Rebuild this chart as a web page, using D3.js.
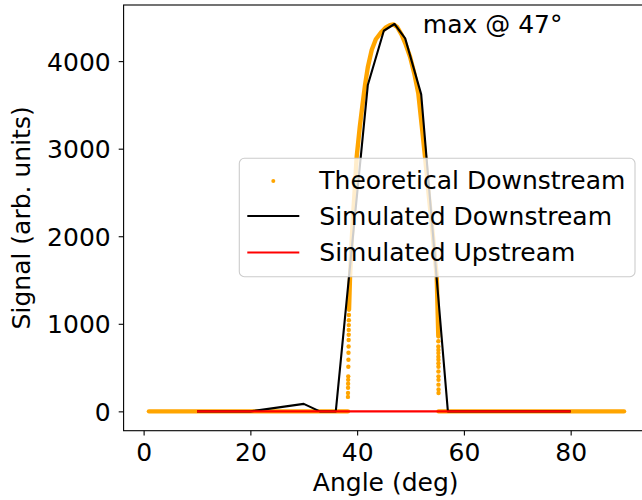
<!DOCTYPE html>
<html><head><meta charset="utf-8">
<script src="https://cdn.jsdelivr.net/npm/d3@7"></script>
<style>html,body{margin:0;padding:0;background:#fff;overflow:hidden}</style>
</head><body>
<script>
// ---------- data ----------
const xTicks = [0, 20, 40, 60, 80];
const yTicks = [0, 1000, 2000, 3000, 4000];

const simAngles      = [10, 20, 30, 33, 36, 42, 45, 47, 49, 52, 57, 60, 70, 80];
const simDownValues  = [0, 0, 85, 0, 0, 3727, 4347, 4424, 4260, 3620, 0, 0, 0, 0];
const simUpValues    = [0, 0, 0, 0, 0, 0, 0, 0, 0, 0, 0, 0, 0, 0];

// theoretical (dense scatter), split into visible pieces
const theoryBaseLeftAngles  = [1, 5, 10, 15, 20, 25, 30, 35, 38.28];
const theoryBaseLeftValues  = [0, 0, 0, 0, 0, 0, 0, 0, 0];
const theoryBaseRightAngles = [55.25, 60, 65, 70, 75, 80, 85, 90];
const theoryBaseRightValues = [0, 0, 0, 0, 0, 0, 0, 0];

const theoryPeakAngles = [38.48, 38.67, 38.9, 39.2, 39.5, 39.92, 40.5, 41.0, 41.48, 42.0, 42.73, 43.5, 44.6, 45.4, 46.16, 46.8, 47.5, 48.35, 49.1, 49.91, 50.7, 51.46, 52.1, 52.72, 53.4, 54.2, 54.91, 55.21];
const theoryPeakValues = [1160, 1540, 1850, 2200, 2480, 2909, 3250, 3500, 3727, 3930, 4127, 4250, 4336, 4385, 4412, 4420, 4390, 4300, 4190, 4050, 3860, 3633, 3265, 2909, 2480, 2000, 1540, 855];

const theoryLeftTailAngles = [38.46, 38.45, 38.44, 38.43, 38.42, 38.41, 38.40, 38.38, 38.37, 38.35, 38.33, 38.32, 38.31, 38.30, 38.29, 38.28];
const theoryLeftTailValues = [1100, 1040, 985, 930, 875, 815, 740, 670, 590, 510, 400, 360, 315, 270, 210, 165];
const theoryRightTailAngles = [55.21, 55.21, 55.22, 55.22, 55.22, 55.23, 55.23, 55.23, 55.23, 55.24, 55.24, 55.24, 55.25, 55.25];
const theoryRightTailValues = [800, 740, 700, 665, 625, 590, 550, 510, 455, 400, 360, 305, 250, 210];

const seriesNames = ["Theoretical Downstream", "Simulated Downstream", "Simulated Upstream"];
const seriesColors = ["#ffa500", "#000000", "#ff0000"];
const xLabel = "Angle (deg)";
const yLabel = "Signal (arb. units)";
const annotationText = "max @ 47°";
const annotationAngle = 52.3;
const annotationValue = 4320;

(function () {
// ---------- layout ----------
const W = 642, H = 500;
const pLeft = 123.6, pTop = 5, pBottom = 430.7;
const x = d3.scaleLinear().domain([-3.75, 94.45]).range([pLeft, pLeft + 98.2 * 5.338]);
const y = d3.scaleLinear().domain([-221, 4641]).range([pBottom, pTop]);
const font = "'DejaVu Sans', sans-serif";
const fs = 25;

const svg = d3.select("body").append("svg")
  .attr("width", W).attr("height", H)
  .style("display", "block").style("font-family", font);
svg.append("rect").attr("width", W).attr("height", H).attr("fill", "#fff");

const zip = (a, b) => a.map((v, i) => [v, b[i]]);
const line = d3.line().x(d => x(d[0])).y(d => y(d[1]));

const g = svg.append("g");
const orange = seriesColors[0];
const r = 2.2;

// theoretical pieces: dense scatter rendered as thick band + dots
[zip(theoryBaseLeftAngles, theoryBaseLeftValues),
 zip(theoryPeakAngles, theoryPeakValues),
 zip(theoryBaseRightAngles, theoryBaseRightValues)].forEach(seg => {
  g.append("path").datum(seg).attr("d", line)
    .attr("fill", "none").attr("stroke", orange).attr("stroke-width", 2 * r)
    .attr("stroke-linecap", "round").attr("stroke-linejoin", "round");
});
const tailPts = zip(theoryLeftTailAngles, theoryLeftTailValues)
  .concat(zip(theoryRightTailAngles, theoryRightTailValues));
g.selectAll("circle.tail").data(tailPts).enter().append("circle")
  .attr("cx", d => x(d[0])).attr("cy", d => y(d[1])).attr("r", r).attr("fill", orange);

// simulated
g.append("path").datum(zip(simAngles, simDownValues)).attr("d", line)
  .attr("fill", "none").attr("stroke", seriesColors[1]).attr("stroke-width", 2.1)
  .attr("stroke-linejoin", "round");
g.append("path").datum(zip(simAngles, simUpValues)).attr("d", line)
  .attr("fill", "none").attr("stroke", seriesColors[2]).attr("stroke-width", 2.1);

// axes
const xAxis = svg.append("g").attr("transform", `translate(0,${pBottom})`)
  .call(d3.axisBottom(x).tickValues(xTicks).tickSize(4.9).tickPadding(5).tickFormat(d3.format("d")));
xAxis.select(".domain").remove();
xAxis.selectAll("line").attr("stroke", "#000").attr("stroke-width", 1.1);
xAxis.selectAll("text").attr("dy", null).attr("y", 30.5)
  .style("font-size", fs + "px").style("font-family", font).attr("fill", "#000");

const yAxis = svg.append("g").attr("transform", `translate(${pLeft},0)`)
  .call(d3.axisLeft(y).tickValues(yTicks).tickSize(4.9).tickPadding(8).tickFormat(d3.format("d")));
yAxis.select(".domain").remove();
yAxis.selectAll("line").attr("stroke", "#000").attr("stroke-width", 1.1);
yAxis.selectAll("text").attr("dy", "0.36em")
  .style("font-size", fs + "px").style("font-family", font).attr("fill", "#000");

// spines
const pRight = x.range()[1];
svg.append("rect").attr("x", pLeft).attr("y", pTop).attr("width", pRight - pLeft).attr("height", pBottom - pTop)
  .attr("fill", "none").attr("stroke", "#000").attr("stroke-width", 1.1);

// labels
svg.append("text").attr("x", (pLeft + pRight) / 2).attr("y", 491)
  .attr("text-anchor", "middle").style("font-size", fs + "px").text(xLabel);
svg.append("text").attr("transform", `translate(30,${(pTop + pBottom) / 2}) rotate(-90)`)
  .attr("text-anchor", "middle").style("font-size", fs + "px").text(yLabel);

// annotation
svg.append("text").attr("x", x(annotationAngle)).attr("y", y(annotationValue))
  .style("font-size", fs + "px").text(annotationText);

// legend
const lg = svg.append("g");
lg.append("rect").attr("x", 239.3).attr("y", 158.3).attr("width", 395.7).attr("height", 118.4)
  .attr("rx", 5).attr("fill", "#fff").attr("fill-opacity", 0.8)
  .attr("stroke", "#cccccc").attr("stroke-width", 1.1);
const rowY = [180, 216, 252.5];
seriesNames.forEach((name, i) => {
  if (i === 0) {
    lg.append("circle").attr("cx", 273.3).attr("cy", rowY[i] + 1).attr("r", 2).attr("fill", seriesColors[i]);
  } else {
    lg.append("line").attr("x1", 247.3).attr("x2", 299.3).attr("y1", rowY[i]).attr("y2", rowY[i])
      .attr("stroke", seriesColors[i]).attr("stroke-width", 2.1);
  }
  lg.append("text").attr("x", 319.3).attr("y", rowY[i] + 8.5)
    .style("font-size", fs + "px").text(name);
});
})();
</script>
</body></html>
